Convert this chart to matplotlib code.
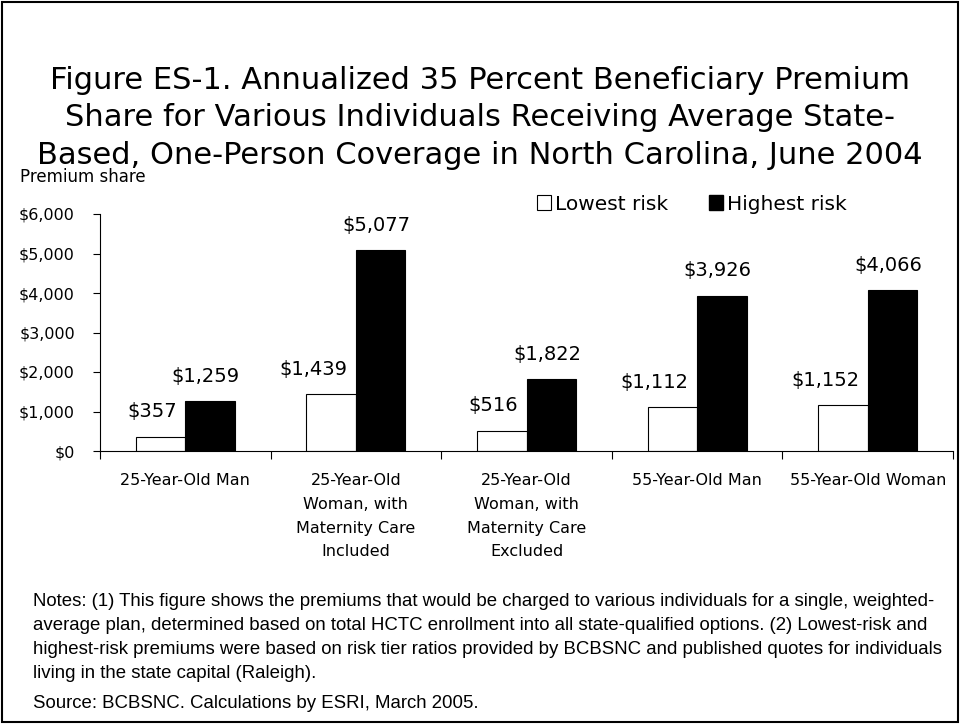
import matplotlib
matplotlib.use("Agg")
import matplotlib.pyplot as plt
import numpy as np
from matplotlib.patches import Rectangle, Patch

# data
categories = ["25-Year-Old Man",
              "25-Year-Old\nWoman, with\nMaternity Care\nIncluded",
              "25-Year-Old\nWoman, with\nMaternity Care\nExcluded",
              "55-Year-Old Man",
              "55-Year-Old Woman"]
lowest_risk = [357, 1439, 516, 1112, 1152]
highest_risk = [1259, 5077, 1822, 3926, 4066]
y_ticks = [0, 1000, 2000, 3000, 4000, 5000, 6000]

title = ("Figure ES-1. Annualized 35 Percent Beneficiary Premium\n"
         "Share for Various Individuals Receiving Average State-\n"
         "Based, One-Person Coverage in North Carolina, June 2004")
notes = ("Notes: (1) This figure shows the premiums that would be charged to various individuals for a single, weighted-\n"
         "average plan, determined based on total HCTC enrollment into all state-qualified options. (2) Lowest-risk and\n"
         "highest-risk premiums were based on risk tier ratios provided by BCBSNC and published quotes for individuals\n"
         "living in the state capital (Raleigh).")
source = "Source: BCBSNC. Calculations by ESRI, March 2005."

fig = plt.figure(figsize=(9.6, 7.26), dpi=100)
W, H = 960, 726

# outer border
fig.patches.append(Rectangle((1.5 / W, 4 / H), 956 / W, 720 / H, transform=fig.transFigure,
                             fill=False, edgecolor="black", linewidth=1.5))

ax = fig.add_axes([100 / W, 1 - 451 / H, 853 / W, 237 / H])

x = np.arange(len(categories))
bw = 0.29
b1 = ax.bar(x - bw / 2, lowest_risk, bw, color="white", edgecolor="black", linewidth=0.8, label="Lowest risk")
b2 = ax.bar(x + bw / 2, highest_risk, bw, color="black", edgecolor="black", linewidth=0.8, label="Highest risk")

# white-bar labels sit left so they clear the black bar
for r, v in zip(b1, lowest_risk):
    ax.annotate(f"${v:,}", (r.get_x() + r.get_width(), v), xytext=(-6, 18),
                textcoords="offset points", ha="right", va="center", fontsize=14)
for r, v in zip(b2, highest_risk):
    ax.annotate(f"${v:,}", (r.get_x() + r.get_width() / 2, v), xytext=(-3, 18),
                textcoords="offset points", ha="center", va="center", fontsize=14)

ax.set_xlim(-0.5, len(categories) - 0.5)
ax.set_ylim(0, 6000)
ax.set_yticks(y_ticks)
ax.set_yticklabels([f"${t:,}" for t in y_ticks], fontsize=11.5)
ax.set_xticks(np.arange(-0.5, len(categories)), labels=[])
ax.set_xticks(x, labels=categories, minor=True)
ax.tick_params(axis="x", which="major", length=6, direction="out")
ax.tick_params(axis="x", which="minor", length=0, pad=16, labelsize=11.5)
ax.tick_params(axis="y", length=5, direction="out", pad=13)
for lbl in ax.get_xticklabels(minor=True):
    lbl.set_linespacing(1.72)
    lbl.set_va("top")
for s in ("top", "right"):
    ax.spines[s].set_visible(False)
ax.spines["left"].set_linewidth(0.8)
ax.spines["bottom"].set_linewidth(0.8)

fig.text(0.5, 1 - 118 / H, title, ha="center", va="center", fontsize=22, linespacing=1.36)
fig.text(20 / W, 1 - 177 / H, "Premium share", ha="left", va="center", fontsize=12)

handles = [Patch(facecolor="white", edgecolor="black", linewidth=0.8),
           Patch(facecolor="black", edgecolor="black")]
fig.legend(handles, ["Lowest risk", "Highest risk"], loc="center", bbox_to_anchor=(692 / W, 1 - 204 / H),
           ncol=2, frameon=False, fontsize=14.5, handlelength=0.7, handleheight=0.7,
           handletextpad=0.2, columnspacing=2.0)

fig.text(33 / W, 1 - 593 / H, notes, ha="left", va="top", fontsize=13.4,
         family="Liberation Sans", linespacing=1.53)
fig.text(33 / W, 1 - 703 / H, source, ha="left", va="center", fontsize=13.4, family="Liberation Sans")

fig.savefig("out.png", dpi=100)
